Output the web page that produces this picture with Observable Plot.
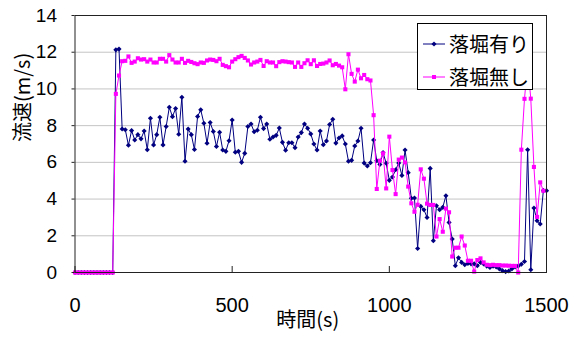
<!DOCTYPE html>
<html>
<head>
<meta charset="utf-8">
<script src="https://cdn.jsdelivr.net/npm/d3@7"></script>
<script src="https://cdn.jsdelivr.net/npm/@observablehq/plot@0.6"></script>
<style>
  html, body { margin: 0; padding: 0; background: #fff; }
  #wrap { position: relative; width: 581px; height: 338px; }
  #legend { position: absolute; left: 417px; top: 23px; width: 114px; height: 65px;
            border: 1px solid #000; background: #fff; font-family: 'Noto Sans CJK JP', sans-serif; }
  .lrow { position: absolute; left: 0; width: 114px; height: 20px; }
  .lrow svg { position: absolute; left: 5px; top: 5px; }
  .lrow span { position: absolute; left: 31px; top: 0; font-size: 20px; line-height: 20px; color: #000; white-space: nowrap; }
</style>
</head>
<body>
<div id="wrap"></div>
<script>
const seriesNames = ["落堀有り", "落堀無し"];
const seriesColors = ["#000080", "#ff00ff"];
const xTitle = "時間(s)";
const yTitle = "流速(m/s)";
const xTicks = [0, 500, 1000, 1500];
const yTicks = [0, 2, 4, 6, 8, 10, 12, 14];

const times = [
  0,10,20,30,40,50,60,70,80,90,
  100,110,120,130,140,150,160,170,180,190,
  200,210,220,230,240,250,260,270,280,290,
  300,310,320,330,340,350,360,370,380,390,
  400,410,420,430,440,450,460,470,480,490,
  500,510,520,530,540,550,560,570,580,590,
  600,610,620,630,640,650,660,670,680,690,
  700,710,720,730,740,750,760,770,780,790,
  800,810,820,830,840,850,860,870,880,890,
  900,910,920,930,940,950,960,970,980,990,
  1000,1010,1020,1030,1040,1050,1060,1070,1080,1090,
  1100,1110,1120,1130,1140,1150,1160,1170,1180,1190,
  1200,1210,1220,1230,1240,1250,1260,1270,1280,1290,
  1300,1310,1320,1330,1340,1350,1360,1370,1380,1390,
  1400,1410,1420,1430,1440,1450,1460,1470,1480,1490,
  1500
];

// 落堀有り
const withPit = [
  0,0,0,0,0,0,0,0,0,0,0,0,0,
  12.13,12.17,7.82,7.78,6.93,7.73,7.22,7.51,7.28,7.71,
  6.69,8.40,6.95,7.51,8.46,6.95,7.95,9.00,8.49,8.93,
  7.53,9.55,6.06,7.82,7.51,6.70,8.50,8.86,8.13,7.04,
  8.17,7.68,6.86,7.64,6.67,6.60,7.18,8.31,6.55,6.60,6.00,
  6.49,7.95,8.09,7.67,7.75,8.46,7.84,8.09,7.26,7.38,
  7.47,7.87,7.09,6.66,7.07,7.07,6.80,7.38,7.62,8.09,
  7.86,7.55,7.00,6.67,7.71,6.96,7.16,8.06,8.35,7.05,
  7.33,7.44,7.00,6.06,6.11,6.89,7.16,7.86,5.96,5.80,
  5.98,7.22,6.09,5.89,6.53,5.95,5.02,5.20,5.60,5.96,
  5.29,6.67,5.44,4.04,4.06,1.31,3.60,3.42,3.00,5.67,1.73,3.64,3.42,
  3.55,4.18,2.73,1.82,0.37,0.80,0.55,0.42,0.49,0.47,0.47,0.37,0.55,0.46,0.35,0.27,0.35,
  0.30,0.20,0.10,0.05,0.08,0.20,0.30,0.35,0.45,0.60,
  6.69,0.15,3.51,2.82,2.64,4.46,4.46
];

// 落堀無し
const withoutPit = [
  0,0,0,0,0,0,0,0,0,0,0,0,0,
  9.73,10.73,11.51,11.53,11.77,11.42,11.49,11.67,11.60,11.62,
  11.49,11.60,11.44,11.44,11.64,11.64,11.49,11.84,11.60,11.44,
  11.44,11.64,11.42,11.53,11.47,11.40,11.35,11.44,11.42,11.55,
  11.60,11.58,11.51,11.64,11.31,11.24,11.18,11.49,11.62,11.73,11.80,
  11.69,11.55,11.33,11.44,11.49,11.58,11.25,11.51,11.44,11.44,
  11.24,11.46,11.51,11.49,11.46,11.44,11.20,11.44,11.20,11.40,
  11.56,11.35,11.56,11.25,11.36,11.38,11.44,11.55,11.29,11.36,
  11.27,11.18,9.98,11.89,10.82,10.40,11.05,10.58,10.76,10.53,
  10.46,8.57,4.55,6.09,6.49,4.58,7.40,5.58,4.27,6.15,
  6.26,6.00,4.68,3.77,3.31,3.69,5.62,5.11,3.75,3.68,3.68,1.96,2.91,
  2.22,3.48,3.28,0.87,1.35,1.35,1.96,1.47,0.64,0.64,0.05,0.68,0.77,0.55,0.42,0.40,0.42,
  0.40,0.40,0.38,0.38,0.37,0.36,0.36,0.00,
  6.69,9.46,11.40,9.47,5.75,3.03,4.91,4.45,
  null
];

const rowsA = times.map((t, i) => ({t, v: withPit[i]})).filter(d => d.v != null);
const rowsB = times.map((t, i) => ({t, v: withoutPit[i]})).filter(d => d.v != null);

const marginTop = 15, marginBottom = 66;
const H = 338;
const frameH = H - marginTop - marginBottom;

const chart = Plot.plot({
  width: 581,
  height: H,
  marginLeft: 74.5,
  marginRight: 35,
  marginTop,
  marginBottom,
  x: {domain: [0, 1500], axis: null},
  y: {domain: [0, 14], axis: null},
  style: {fontFamily: "'Liberation Sans','Noto Sans CJK JP',sans-serif", background: "white", color: "black", overflow: "visible"},
  marks: [
    Plot.ruleY(yTicks, {y: d => d, stroke: "#c4c4c4", strokeWidth: 1}),
    Plot.line(rowsA, {x: "t", y: "v", stroke: seriesColors[0], strokeWidth: 1}),
    Plot.dot(rowsA, {x: "t", y: "v", symbol: "diamond2", r: 2.3, fill: seriesColors[0], stroke: "none"}),
    Plot.line(rowsB, {x: "t", y: "v", stroke: seriesColors[1], strokeWidth: 1}),
    Plot.dot(rowsB, {x: "t", y: "v", symbol: "square", r: 2.3, fill: seriesColors[1], stroke: "none"}),
    Plot.frame({stroke: "#222"}),
    Plot.tickX(xTicks, {x: d => d, stroke: "#222", insetTop: frameH - 6}),
    Plot.axisY({ticks: yTicks, tickSize: 3, tickPadding: 15, fontSize: 19, label: null, stroke: "#222", tickFormat: d => String(d)}),
    Plot.axisX({ticks: xTicks, tickSize: 0, tickPadding: 25, fontSize: 20, label: null, tickFormat: d => String(d)}),
    Plot.text([xTitle], {text: d => d, frameAnchor: "bottom", dy: 54, dx: -3, fontSize: 20, fontFamily: "'Noto Sans CJK JP',sans-serif", fill: "black"}),
    Plot.text([yTitle], {text: d => d, frameAnchor: "left", dx: -51, dy: -2, rotate: -90, fontSize: 20, fontFamily: "'Noto Sans CJK JP',sans-serif", fill: "black"})
  ]
});

const wrap = document.getElementById("wrap");
wrap.appendChild(chart);

// legend (inside plot area, top-right)
const legend = document.createElement("div");
legend.id = "legend";
const rowCenters = [20, 53];
seriesNames.forEach((name, i) => {
  const row = document.createElement("div");
  row.className = "lrow";
  row.style.top = (rowCenters[i] - 10) + "px";
  const ns = "http://www.w3.org/2000/svg";
  const s = document.createElementNS(ns, "svg");
  s.setAttribute("width", 22); s.setAttribute("height", 10);
  const ln = document.createElementNS(ns, "line");
  ln.setAttribute("x1", 0); ln.setAttribute("x2", 22); ln.setAttribute("y1", 5); ln.setAttribute("y2", 5);
  ln.setAttribute("stroke", seriesColors[i]); ln.setAttribute("stroke-width", 1);
  s.appendChild(ln);
  if (i === 0) {
    const p = document.createElementNS(ns, "path");
    p.setAttribute("d", "M11,2.4L13.6,5L11,7.6L8.4,5Z");
    p.setAttribute("fill", seriesColors[i]);
    s.appendChild(p);
  } else {
    const r = document.createElementNS(ns, "rect");
    r.setAttribute("x", 9); r.setAttribute("y", 3); r.setAttribute("width", 4); r.setAttribute("height", 4);
    r.setAttribute("fill", seriesColors[i]);
    s.appendChild(r);
  }
  row.appendChild(s);
  const sp = document.createElement("span");
  sp.textContent = name;
  row.appendChild(sp);
  legend.appendChild(row);
});
wrap.appendChild(legend);
</script>
</body>
</html>
